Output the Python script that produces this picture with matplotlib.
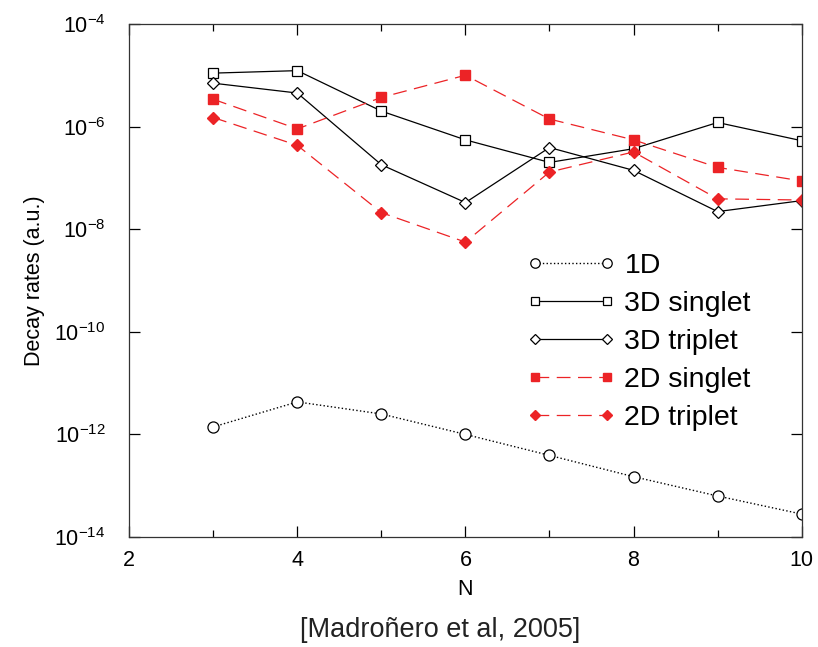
import matplotlib
matplotlib.use("Agg")
from matplotlib import pyplot as plt
from matplotlib.ticker import FixedLocator, NullLocator

# data
N = [3, 4, 5, 6, 7, 8, 9, 10]
rate_1d = [1.4e-12, 4.3e-12, 2.5e-12, 1.0e-12, 3.9e-13, 1.5e-13, 6.3e-14, 2.8e-14]
rate_3d_singlet = [1.1e-5, 1.23e-5, 2.0e-6, 5.5e-7, 2.0e-7, 3.7e-7, 1.2e-6, 5.3e-7]
rate_3d_triplet = [7.0e-6, 4.5e-6, 1.8e-7, 3.3e-8, 3.9e-7, 1.4e-7, 2.2e-8, 3.6e-8]
rate_2d_singlet = [3.4e-6, 9.0e-7, 3.7e-6, 1.0e-5, 1.4e-6, 5.5e-7, 1.6e-7, 8.7e-8]
rate_2d_triplet = [1.5e-6, 4.3e-7, 2.1e-8, 5.6e-9, 1.3e-7, 3.2e-7, 3.9e-8, 3.7e-8]

plt.rcParams['font.family'] = ['Liberation Sans', 'DejaVu Sans']
red = '#ec2326'

fig = plt.figure(figsize=(8.18, 6.47), dpi=100)
ax = fig.add_axes([0.158, 0.170, 0.822, 0.793])

ax.plot(N, rate_1d, color='black', linestyle=':', linewidth=1.0,
        marker='o', markersize=8, markerfacecolor='white', markeredgecolor='black',
        markeredgewidth=0.9, label='1D')
ax.plot(N, rate_3d_singlet, color='black', linestyle='-', linewidth=0.9,
        marker='s', markersize=7.5, markerfacecolor='white', markeredgecolor='black',
        markeredgewidth=0.9, label='3D singlet')
ax.plot(N, rate_3d_triplet, color='black', linestyle='-', linewidth=0.9,
        marker='D', markersize=6.5, markerfacecolor='white', markeredgecolor='black',
        markeredgewidth=0.9, label='3D triplet')
ax.plot(N, rate_2d_singlet, color=red, linestyle=(0, (11, 6)), linewidth=0.9,
        marker='s', markersize=7.5, markerfacecolor=red, markeredgecolor=red,
        label='2D singlet')
ax.plot(N, rate_2d_triplet, color=red, linestyle=(0, (11, 6)), linewidth=0.9,
        marker='D', markersize=6.5, markerfacecolor=red, markeredgecolor=red,
        label='2D triplet')

ax.set_yscale('log')
ax.set_xlim(2, 10)
ax.set_ylim(1e-14, 1e-4)
ax.set_xticks([2, 4, 6, 8, 10])
ax.xaxis.set_minor_locator(FixedLocator([3, 5, 7, 9]))
ax.yaxis.set_major_locator(FixedLocator([1e-14, 1e-12, 1e-10, 1e-8, 1e-6, 1e-4]))
ax.yaxis.set_minor_locator(NullLocator())
ax.tick_params(which='both', direction='in', top=True, right=True, labelsize=15.5)
ax.tick_params(axis='y', which='major', pad=17)
ax.tick_params(axis='x', which='major', pad=9)
ax.tick_params(which='major', length=8, width=0.9)
ax.tick_params(which='minor', length=5, width=0.9)
for s in ax.spines.values():
    s.set_linewidth(0.9)
    s.set_color('#333333')

ax.set_xlabel('N', fontsize=15.5, labelpad=6)
ax.set_ylabel('Decay rates (a.u.)', fontsize=15.5, labelpad=7)

leg = ax.legend(loc='upper left', bbox_to_anchor=(0.644, 0.609), bbox_transform=fig.transFigure,
                frameon=False, fontsize=20.5, numpoints=2, handlelength=3.1, handletextpad=0.33,
                labelspacing=0.42, borderpad=0, borderaxespad=0, markerscale=0.85)

fig.text(0.538, 0.0155, '[Madroñero et al, 2005]', fontsize=19.5, ha='center',
         va='baseline', color='#222222')

plt.savefig('out.png')
